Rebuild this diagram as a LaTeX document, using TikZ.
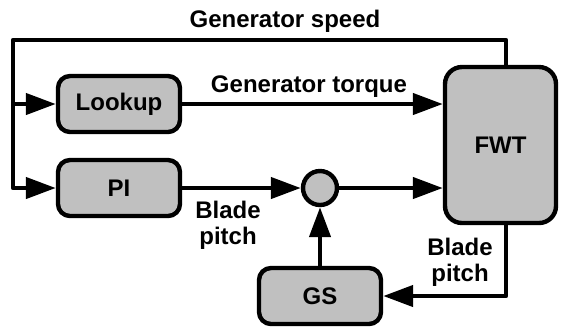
\documentclass[tikz,border=0pt]{standalone}
\usepackage{fontspec}
\setmainfont{Liberation Sans}
\usepackage{tikz}
\usetikzlibrary{arrows.meta,positioning,calc}
\definecolor{blkgray}{HTML}{C0C0C0}

\begin{document}
\begin{tikzpicture}[x=0.5pt,y=-0.5pt,line width=2.2pt,line join=round,
  blk/.style={draw,fill=blkgray,rounded corners=6pt,minimum width=61pt,minimum height=28pt,font=\bfseries\fontsize{12}{13}\selectfont},
  lbl/.style={font=\bfseries\fontsize{12}{13}\selectfont,align=center},
  >={Triangle[length=15pt,width=10.5pt]}]
\useasboundingbox (0,0) rectangle (561,329);
\node[blk] (lookup) at (119,104) {Lookup};
\node[blk] (pi) at (119,188) {PI};
\node[blk,rounded corners=8.5pt,minimum width=55.5pt,minimum height=78pt] (fwt) at (500.5,145) {FWT};
\node[blk] (gs) at (320,296) {GS};
\node[draw,fill=blkgray,circle,minimum size=17pt,inner sep=0pt] (sum) at (320,188) {};
\coordinate (spd) at (506,40);
\coordinate (lft) at (13,40);
\draw[->] (fwt.north -| spd) -- (spd) -- (lft) |- (pi.west);
\draw[->] (lft |- lookup) -- (lookup);
\draw[->] (lookup) -- (lookup -| fwt.west);
\draw[->] (pi) -- (sum);
\draw[->] (sum) -- (sum -| fwt.west);
\draw[->] (gs) -- (sum);
\draw[->] (fwt.south -| spd) |- (gs.east);
\node[lbl,anchor=base] (spdlbl) at (285,27) {Generator speed};
\node[lbl,anchor=base] (trqlbl) at (309,92) {Generator torque};
\node[lbl] (pitchlbl) at (228,225) {Blade\\pitch};
\node[lbl] (fbklbl) at (460,262) {Blade\\pitch};
\end{tikzpicture}
\end{document}
